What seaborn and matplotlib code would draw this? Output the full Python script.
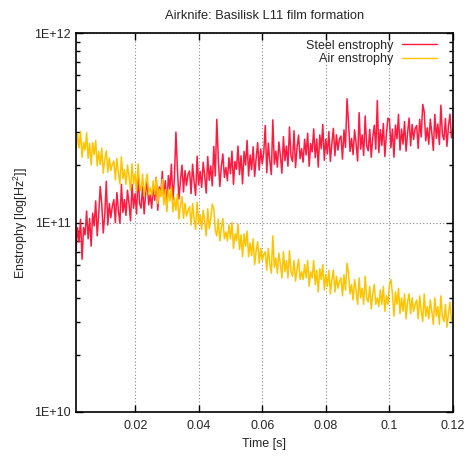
import numpy as np
import pandas as pd
import matplotlib
matplotlib.use("Agg")
import matplotlib.pyplot as plt
import matplotlib.ticker as mticker
import seaborn as sns

# values in units of 1E+10
steel = [
    7.1, 9.4, 7.9, 10.4, 6.4, 9.4, 8.6, 11.5, 8.2, 10.5, 7.5, 11.2, 9.6, 13.0, 8.5, 11.1, 15.5, 12.5, 8.8, 11.0, 16.5, 9.7, 12.6, 10.6, 12.2,
    13.2, 10.0, 14.4, 11.6, 9.9, 15.9, 11.3, 13.2, 10.9, 14.8, 12.6, 10.2, 15.9, 11.9, 14.2, 11.1, 18.0, 12.6, 11.9, 15.5, 11.1, 14.2, 16.5, 12.4, 14.0,
    11.9, 15.8, 13.1, 17.3, 11.6, 15.4, 14.0, 18.6, 13.2, 16.6, 11.9, 17.7, 15.0, 20.3, 13.2, 17.1, 30.0, 19.0, 13.3, 16.7, 20.1, 14.5, 18.8, 15.7, 18.0,
    18.7, 14.2, 20.3, 16.4, 13.9, 22.4, 15.8, 18.6, 15.3, 20.8, 17.6, 14.3, 22.3, 16.7, 19.9, 15.6, 25.2, 17.6, 35.0, 21.6, 15.5, 19.8, 23.0, 17.3, 19.5,
    16.6, 22.0, 18.1, 23.8, 15.9, 21.0, 19.1, 25.3, 17.9, 22.5, 16.0, 23.7, 20.1, 27.1, 17.6, 22.7, 19.0, 25.1, 17.5, 21.9, 26.4, 18.9, 24.4, 20.4, 23.3,
    32.5, 18.3, 26.2, 21.2, 17.9, 34.8, 20.3, 23.8, 19.6, 26.6, 22.5, 18.2, 28.4, 21.2, 25.3, 19.8, 31.9, 22.3, 21.0, 30.5, 19.5, 24.9, 28.9, 21.7, 24.5,
    20.8, 27.5, 22.7, 29.6, 19.8, 26.1, 23.6, 31.2, 22.0, 27.6, 19.6, 29.0, 24.5, 32.9, 21.3, 27.5, 23.0, 30.2, 21.0, 26.2, 31.4, 22.5, 29.0, 24.1, 27.6,
    28.6, 21.6, 30.8, 24.9, 45.0, 33.7, 23.7, 27.8, 22.8, 30.8, 26.1, 21.1, 38.0, 24.4, 29.0, 22.6, 36.5, 25.4, 23.9, 31.0, 22.1, 28.1, 32.6, 24.4, 44.0,
    23.4, 30.9, 25.5, 33.3, 22.3, 29.3, 35.5, 35.1, 24.8, 31.1, 22.1, 32.7, 27.6, 37.2, 24.1, 31.1, 25.9, 34.1, 23.8, 29.7, 35.6, 25.4, 32.9, 27.4, 31.3,
    32.5, 24.6, 35.0, 28.3, 42.0, 38.3, 27.0, 31.6, 25.9, 35.1, 29.7, 24.0, 37.2, 27.8, 33.1, 25.8, 41.6, 29.1, 27.3, 35.4, 25.2, 32.2, 37.3, 28.0, 31.5,
]
air = [
    24.3, 29.4, 24.8, 30.2, 22.1, 26.5, 24.1, 29.8, 21.8, 26.1, 20.1, 26.4, 22.8, 27.1, 19.9, 23.7, 20.2, 24.7, 18.2, 21.5, 23.9, 18.4, 21.9, 18.8, 20.3,
    21.1, 16.8, 21.8, 18.2, 16.0, 22.2, 17.0, 19.0, 15.9, 20.1, 17.6, 14.8, 20.4, 16.0, 18.1, 14.7, 20.4, 15.7, 14.7, 18.0, 13.8, 16.1, 18.0, 14.1, 15.3,
    13.8, 16.6, 14.1, 17.2, 12.6, 15.0, 13.7, 16.9, 12.4, 14.9, 11.4, 15.0, 13.0, 15.4, 11.4, 13.5, 11.6, 14.1, 10.4, 12.3, 13.7, 10.5, 12.6, 10.8, 11.6,
    12.1, 9.7, 12.6, 10.5, 9.2, 12.8, 9.8, 11.0, 9.2, 11.6, 10.1, 8.5, 11.8, 9.3, 10.5, 12.5, 11.8, 9.1, 8.5, 10.4, 8.0, 9.4, 10.5, 8.2, 8.9,
    8.0, 9.7, 8.2, 10.0, 7.3, 8.7, 8.0, 9.8, 7.2, 8.6, 6.6, 8.7, 7.5, 9.0, 6.6, 7.8, 6.7, 8.2, 6.0, 7.1, 7.9, 6.1, 7.3, 6.3, 6.8,
    7.0, 5.6, 7.3, 6.1, 5.4, 8.5, 5.8, 6.5, 5.4, 6.9, 6.0, 5.1, 7.0, 5.5, 6.3, 5.1, 7.1, 5.5, 5.2, 6.3, 4.9, 5.7, 6.4, 5.0, 5.5,
    5.0, 6.0, 5.1, 6.3, 4.6, 5.5, 5.1, 6.3, 4.7, 5.6, 4.3, 5.7, 5.0, 6.0, 4.4, 5.3, 4.6, 5.6, 4.2, 5.0, 5.6, 4.3, 5.2, 4.5, 4.9,
    5.1, 4.1, 5.3, 4.4, 6.1, 5.4, 4.2, 4.7, 3.9, 5.0, 4.4, 3.7, 5.1, 4.0, 4.5, 3.7, 5.2, 4.0, 3.8, 4.6, 3.5, 4.2, 4.7, 3.7, 4.0,
    3.6, 4.4, 3.7, 4.6, 3.4, 4.1, 3.7, 4.7, 5.0, 4.2, 3.2, 4.3, 3.7, 4.5, 3.3, 4.0, 3.4, 4.2, 3.1, 3.8, 4.2, 3.3, 4.0, 3.4, 3.7,
    3.9, 3.1, 4.1, 3.4, 3.0, 4.2, 3.2, 3.6, 3.1, 3.9, 3.4, 2.9, 4.0, 3.2, 3.6, 2.9, 4.1, 3.2, 3.0, 3.7, 2.8, 3.3, 3.8, 3.0, 3.2,
]
t_start, t_end = 0.0013, 0.12
x_ticks = [0.02, 0.04, 0.06, 0.08, 0.1, 0.12]
x_tick_labels = ["0.02", "0.04", "0.06", "0.08", "0.1", "0.12"]
y_ticks = [1e10, 1e11, 1e12]
y_tick_labels = ["1E+10", "1E+11", "1E+12"]
series_names = ["Steel enstrophy", "Air enstrophy"]
colors = ["#ff1a40", "#ffc400"]

time = np.linspace(t_start, t_end, len(steel))
df = pd.concat([
    pd.DataFrame({"Time": time, "Enstrophy": np.array(steel) * 1e10, "Series": series_names[0]}),
    pd.DataFrame({"Time": time, "Enstrophy": np.array(air) * 1e10, "Series": series_names[1]}),
], ignore_index=True)

sns.set_style("ticks")
plt.rcParams["font.family"] = ["Liberation Sans", "DejaVu Sans"]
plt.rcParams["mathtext.fontset"] = "custom"
plt.rcParams["mathtext.rm"] = "Liberation Sans"
plt.rcParams["mathtext.it"] = "Liberation Sans"

fig = plt.figure(figsize=(4.68, 4.57), dpi=100)
ax = fig.add_axes([76 / 468, 1 - 412 / 457, 377 / 468, 379 / 457])

sns.lineplot(data=df, x="Time", y="Enstrophy", hue="Series", palette=colors,
             linewidth=1.1, ax=ax, estimator=None, sort=False)

ax.set_yscale("log")
ax.set_xlim(t_start, t_end)
ax.set_ylim(1e10, 1e12)
ax.set_xticks(x_ticks)
ax.set_xticklabels(x_tick_labels)
ax.set_yticks(y_ticks)
ax.set_yticklabels(y_tick_labels)
ax.yaxis.set_minor_locator(mticker.LogLocator(base=10, subs=np.arange(2, 10)))
ax.yaxis.set_minor_formatter(mticker.NullFormatter())

ax.tick_params(axis="both", which="both", direction="in", top=True, right=True,
               labelsize=9, color="black")
ax.tick_params(axis="both", which="major", length=5, width=1)
ax.tick_params(axis="y", which="minor", length=3, width=1)
ax.tick_params(axis="x", which="major", pad=6)
for s in ax.spines.values():
    s.set_linewidth(1.2)
    s.set_color("black")

ax.grid(True, which="major", linestyle=(0, (1, 2)), color="#888888", linewidth=0.8)
ax.grid(False, which="minor")
ax.set_axisbelow(True)

ax.set_title("Airknife: Basilisk L11 film formation", fontsize=9.3, pad=10)
ax.set_xlabel("Time [s]", fontsize=9, labelpad=4)
ax.set_ylabel("Enstrophy [log[Hz$^2$]]", fontsize=9, labelpad=3)

leg = ax.legend(loc="upper right", bbox_to_anchor=((437 - 76) / 377, 0.982),
                frameon=False, fontsize=9, markerfirst=False,
                handlelength=2.8, borderaxespad=0.0, borderpad=0.0,
                labelspacing=0.1, handletextpad=0.7)
for line in leg.get_lines():
    line.set_linewidth(1.0)

fig.savefig("out.png", dpi=100, facecolor="white")
